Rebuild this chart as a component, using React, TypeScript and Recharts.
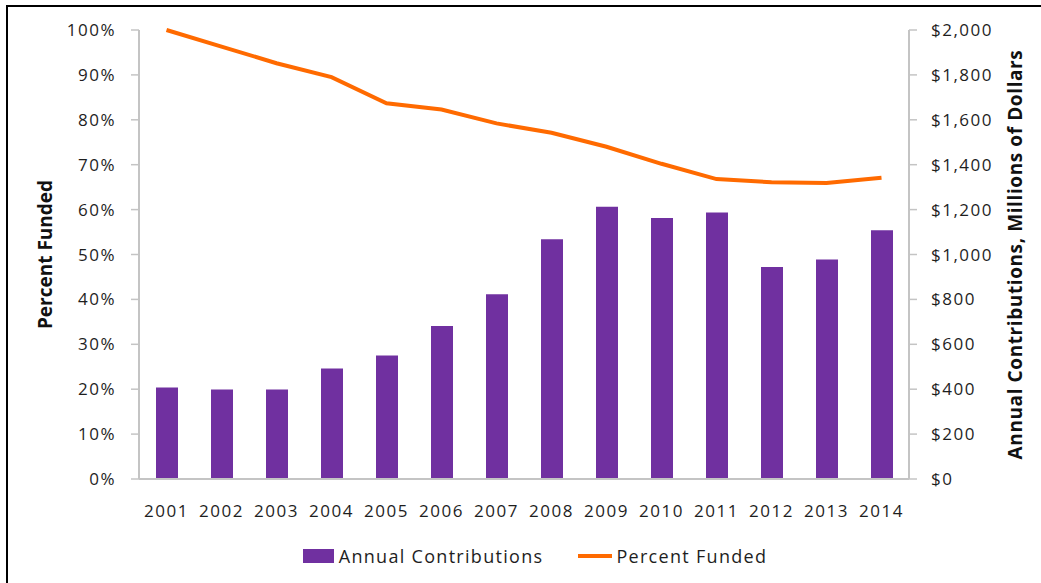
import React from 'react';
import { ComposedChart, Bar, Line, XAxis, YAxis, Legend, Label } from 'recharts';

const years = ['2001', '2002', '2003', '2004', '2005', '2006', '2007', '2008', '2009', '2010', '2011', '2012', '2013', '2014'];
const contributions = [408, 399, 399, 492, 550, 682, 823, 1068, 1213, 1163, 1187, 944, 978, 1108];
const percentFunded = [100, 96.3, 92.6, 89.5, 83.7, 82.3, 79.2, 77.1, 74.0, 70.2, 66.8, 66.1, 65.9, 67.1];
const percentTicks = [0, 10, 20, 30, 40, 50, 60, 70, 80, 90, 100];
const dollarTicks = [0, 200, 400, 600, 800, 1000, 1200, 1400, 1600, 1800, 2000];
const edgeTicks = [0, 1, 2, 3, 4, 5, 6, 7, 8, 9, 10, 11, 12, 13, 14];

const data = years.map((year, i) => ({
  year,
  contributions: contributions[i],
  funded: percentFunded[i],
}));

const PURPLE = '#7030a0';
const ORANGE = '#ff6a00';
const AXIS = '#c4c4c4';
const FONT = '"Open Sans", sans-serif';
const tickStyle = { fill: '#1e1e1e', fontSize: 17, fontFamily: FONT, letterSpacing: 1.5 };
const titleStyle = { textAnchor: 'middle' as const, fontFamily: FONT, fontWeight: 700, fontSize: 19, fill: '#111' };

const LegendBox = () => (
  <div style={{ height: 74, paddingTop: 20, boxSizing: 'border-box', display: 'flex', justifyContent: 'center', alignItems: 'center', paddingLeft: 29, fontFamily: FONT, fontSize: 18, color: '#1e1e1e', letterSpacing: 1.3 }}>
    <span style={{ display: 'inline-block', width: 31, height: 14, background: PURPLE, marginRight: 5 }} />
    <span style={{ lineHeight: '20px' }}>Annual Contributions</span>
    <span style={{ display: 'inline-block', width: 34, height: 4, background: ORANGE, marginLeft: 35, marginRight: 4 }} />
    <span style={{ lineHeight: '20px' }}>Percent Funded</span>
  </div>
);

export default function App() {
  return (
    <div style={{ position: 'fixed', left: 0, top: 0, width: 1041, height: 583, overflow: 'hidden', background: '#fff' }}>
      <ComposedChart width={1041} height={583} data={data} margin={{ top: 30, right: 0, left: 0, bottom: 0 }} barCategoryGap="30%">
        <XAxis xAxisId="edges" type="number" domain={[0, 14]} ticks={edgeTicks} height={0} axisLine={false}
          tickLine={{ stroke: AXIS, strokeWidth: 1.5 }} tickSize={8} tick={() => <g />} allowDataOverflow />
        <XAxis dataKey="year" height={30} tickLine={false} axisLine={{ stroke: AXIS, strokeWidth: 2 }}
          tick={tickStyle} tickMargin={20} interval={0} />
        <YAxis yAxisId="pct" orientation="left" width={139} domain={[0, 100]} ticks={percentTicks}
          tickFormatter={(v: number) => `${v}%`} tick={tickStyle} tickSize={8} tickMargin={15}
          axisLine={{ stroke: AXIS, strokeWidth: 2 }} tickLine={{ stroke: AXIS, strokeWidth: 1.5 }}>
          <Label value="Percent Funded" angle={-90} position="insideLeft" offset={45} style={titleStyle} />
        </YAxis>
        <YAxis yAxisId="usd" orientation="right" width={132} domain={[0, 2000]} ticks={dollarTicks}
          tickFormatter={(v: number) => `$${v.toLocaleString('en-US')}`} tick={tickStyle} tickSize={8} tickMargin={14}
          axisLine={{ stroke: AXIS, strokeWidth: 2 }} tickLine={{ stroke: AXIS, strokeWidth: 1.5 }}>
          <Label value="Annual Contributions, Millions of Dollars" angle={-90} position="insideRight" offset={26}
            style={{ ...titleStyle, letterSpacing: 0.6 }} />
        </YAxis>
        <Bar yAxisId="usd" dataKey="contributions" name="Annual Contributions" fill={PURPLE} barSize={22} isAnimationActive={false} />
        <Line yAxisId="pct" dataKey="funded" name="Percent Funded" type="linear" stroke={ORANGE} strokeWidth={4} dot={false} activeDot={false} isAnimationActive={false} />
        <Legend verticalAlign="bottom" content={() => <LegendBox />} />
      </ComposedChart>
      {/* frame along the top and left edges */}
      <div style={{ position: 'absolute', left: 6, top: 5, width: 2, height: 600, background: '#000' }} />
      <div style={{ position: 'absolute', left: 6, top: 5, width: 1100, height: 2, background: '#000' }} />
    </div>
  );
}
